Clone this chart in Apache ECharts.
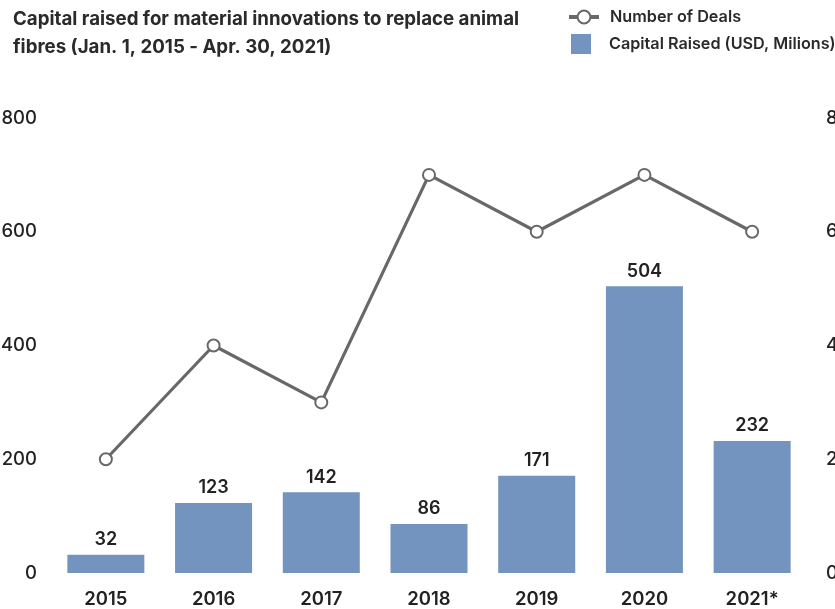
<!DOCTYPE html>
<html>
<head>
<meta charset="utf-8">
<style>
  html, body { margin: 0; padding: 0; background: #fff; }
  #chart { width: 835px; height: 609px; }
</style>
<script src="https://cdn.jsdelivr.net/npm/echarts@6/dist/echarts.min.js"></script>
</head>
<body>
<div id="chart"></div>
<script>
// Funding for next-gen animal-fibre replacements, by year
const years = ['2015', '2016', '2017', '2018', '2019', '2020', '2021*'];
const capitalRaised = [32, 123, 142, 86, 171, 504, 232];   // USD millions
const numberOfDeals = [2, 4, 3, 7, 6, 7, 6];
const capitalTicks = [0, 200, 400, 600, 800];
const dealTicks = [0, 2, 4, 6, 8];

const FONT = 'Inter, "Noto Sans", sans-serif';
const INK = '#222';

const chart = echarts.init(document.getElementById('chart'), null, { renderer: 'canvas' });

chart.setOption({
  animation: false,
  backgroundColor: '#fff',
  textStyle: { fontFamily: FONT },
  title: {
    text: 'Capital raised for material innovations to replace animal\nfibres (Jan. 1, 2015 - Apr. 30, 2021)',
    left: 8,
    top: 0,
    textStyle: { fontFamily: FONT, fontSize: 18.7, fontWeight: 700, color: '#2a2a2a', lineHeight: 28 }
  },
  legend: [
    {
      data: ['Number of Deals'],
      left: 562, top: 4,
      itemWidth: 30, itemHeight: 16,
      lineStyle: { width: 4 },
      itemStyle: { borderWidth: 3.5 },
      textStyle: { fontFamily: FONT, fontSize: 16.2, fontWeight: 600, color: '#2a2a2a', padding: [0, 0, 0, 6] }
    },
    {
      data: ['Capital Raised (USD, Milions)'],
      left: 566, top: 29,
      icon: 'rect',
      itemWidth: 20, itemHeight: 20,
      textStyle: { fontFamily: FONT, fontSize: 16.2, fontWeight: 600, color: '#2a2a2a', padding: [0, 0, 0, 13] }
    }
  ],
  grid: { left: 52, right: 29, top: 118, bottom: 36, containLabel: false, outerBoundsMode: 'none' },
  xAxis: {
    type: 'category',
    data: years,
    axisLine: { show: false },
    axisTick: { show: false },
    axisLabel: { margin: 17, fontFamily: FONT, fontSize: 18.5, fontWeight: 600, color: INK }
  },
  yAxis: [
    {
      type: 'value',
      min: capitalTicks[0], max: capitalTicks[capitalTicks.length - 1],
      interval: capitalTicks[1] - capitalTicks[0],
      splitLine: { show: false },
      axisLine: { show: false },
      axisTick: { show: false },
      axisLabel: { margin: 15, fontFamily: FONT, fontSize: 18.5, fontWeight: 500, color: INK }
    },
    {
      type: 'value',
      min: dealTicks[0], max: dealTicks[dealTicks.length - 1],
      interval: dealTicks[1] - dealTicks[0],
      splitLine: { show: false },
      axisLine: { show: false },
      axisTick: { show: false },
      axisLabel: { margin: 20, fontFamily: FONT, fontSize: 18.5, fontWeight: 500, color: INK }
    }
  ],
  series: [
    {
      name: 'Capital Raised (USD, Milions)',
      type: 'bar',
      yAxisIndex: 0,
      data: capitalRaised,
      barWidth: 77,
      itemStyle: { color: '#7394be' },
      label: {
        show: true,
        position: 'top',
        distance: 6,
        fontFamily: FONT,
        fontSize: 18,
        fontWeight: 600,
        color: INK
      },
      z: 1
    },
    {
      name: 'Number of Deals',
      type: 'line',
      yAxisIndex: 1,
      data: numberOfDeals,
      symbol: 'emptyCircle',
      symbolSize: 12,
      lineStyle: { color: '#686868', width: 3.2 },
      itemStyle: { color: '#686868', borderColor: '#686868', borderWidth: 3.2 },
      z: 3
    }
  ]
});
</script>
</body>
</html>
